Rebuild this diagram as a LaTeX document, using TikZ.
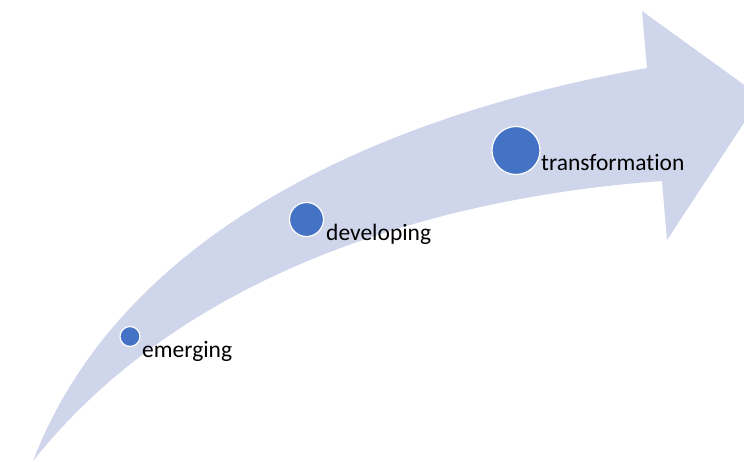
\documentclass[tikz,border=0pt]{standalone}
\usepackage{fontspec}
\setmainfont{Carlito}[Ligatures=NoCommon]
\definecolor{shaftfill}{HTML}{CFD5EA}
\definecolor{dotblue}{HTML}{4472C4}
\begin{document}
\begin{tikzpicture}[x=1pt,y=-1pt,
    dot/.style={shape=circle,fill=dotblue,draw=white,line width=1.2pt,inner sep=0pt},
    lbl/.style={anchor=base west,inner sep=0pt,font=\fontsize{23.5}{28}\selectfont}]
    \useasboundingbox (0,0) rectangle (744,461);
    % curved arrow, tail at bottom left
    \fill[shaftfill] (33,461) .. controls (119,237) and (371,117) .. (647,68)
        -- (642,11) -- (761,97) -- (667,240) -- (662,181)
        .. controls (450,196) and (188,266) .. (33,461) -- cycle;
    % stages, small to large
    \node[dot,minimum size=20pt] (emg) at (130,336.5) {};
    \node[dot,minimum size=34pt] (dev) at (306.5,219.5) {};
    \node[dot,minimum size=48pt] (trf) at (516,150.5) {};
    \node[lbl] (emgtext) at (142,357) {emerging};
    \node[lbl] (devtext) at (326,240) {developing};
    \node[lbl] (trftext) at (541,170) {transformation};
\end{tikzpicture}
\end{document}
